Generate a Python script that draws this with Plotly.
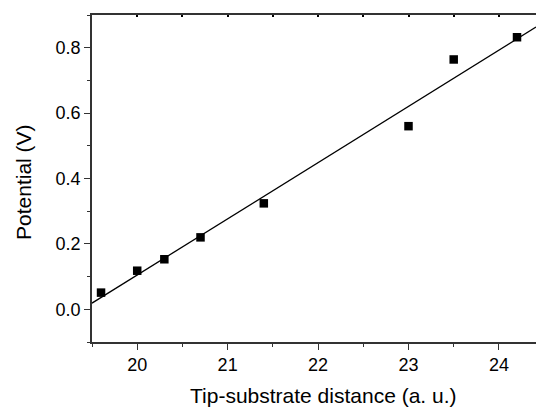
import numpy as np
import plotly.graph_objects as go

# Data
distance = [19.6, 20.0, 20.3, 20.7, 21.4, 23.0, 23.5, 24.2]
potential = [0.051, 0.118, 0.153, 0.220, 0.324, 0.560, 0.764, 0.832]

x_range = [19.5, 24.41]
y_range = [-0.1, 0.9]
x_ticks = [20, 21, 22, 23, 24]
y_ticks = [0.0, 0.2, 0.4, 0.6, 0.8]
x_title = "Tip-substrate distance (a. u.)"
y_title = "Potential (V)"

slope, intercept = np.polyfit(distance, potential, 1)
fit_x = np.array(x_range)
fit_y = slope * fit_x + intercept

FONT = "Liberation Sans, Arial, Helvetica, sans-serif"
AX = "#333333"

fig = go.Figure()
fig.add_trace(go.Scatter(x=fit_x, y=fit_y, mode="lines", xaxis="x2",
                         line=dict(color="black", width=1.3), hoverinfo="skip", showlegend=False))
fig.add_trace(go.Scatter(x=distance, y=potential, mode="markers",
                         marker=dict(symbol="square", size=8.5, color="black"), showlegend=False))

fig.update_layout(
    template="none",
    width=536, height=407,
    margin=dict(l=92, r=0, t=15, b=65, autoexpand=False),
    paper_bgcolor="white", plot_bgcolor="white",
    font=dict(family=FONT, color="black"),
    xaxis=dict(range=x_range, tickvals=x_ticks, ticktext=[str(v) for v in x_ticks], automargin=False,
               showgrid=False, zeroline=False, showline=True, linecolor=AX, linewidth=1.5,
               ticks="outside", ticklen=6, tickwidth=1.3, tickcolor=AX,
               minor=dict(dtick=0.5, tick0=19.5, ticks="outside", ticklen=3, tickwidth=1.3, tickcolor=AX,
                          showgrid=False),
               tickfont=dict(size=18, family=FONT)),
    xaxis2=dict(range=x_range, overlaying="x", side="top", matches="x", showticklabels=False, automargin=False,
                showgrid=False, zeroline=False, showline=True, linecolor=AX, linewidth=1.5,
                ticks="inside", ticklen=2, tickwidth=1.5, tickcolor="black", dtick=0.5, tick0=19.5),
    yaxis=dict(range=y_range, tickvals=y_ticks, ticktext=[f"{v:.1f}" for v in y_ticks], automargin=False,
               showgrid=False, zeroline=False, showline=True, linecolor=AX, linewidth=1.5,
               ticks="outside", ticklen=6, tickwidth=1.3, tickcolor=AX,
               minor=dict(dtick=0.1, tick0=-0.1, ticks="outside", ticklen=3, tickwidth=1.3, tickcolor=AX,
                          showgrid=False),
               tickfont=dict(size=18, family=FONT)),
    annotations=[
        dict(text=x_title, xref="paper", yref="paper", x=(323.5 - 92) / 444, y=-(395 - 342) / 327,
             xanchor="center", yanchor="middle", showarrow=False, font=dict(size=21, family=FONT)),
        dict(text=y_title, xref="paper", yref="paper", x=(23 - 92) / 444, y=(407 - 182 - 65) / 327,
             xanchor="center", yanchor="middle", textangle=-90, showarrow=False,
             font=dict(size=21, family=FONT)),
    ],
)

fig.write_html("out.html", config={"displayModeBar": False},
               post_script="document.body.style.margin='0';document.body.style.overflow='hidden';")
